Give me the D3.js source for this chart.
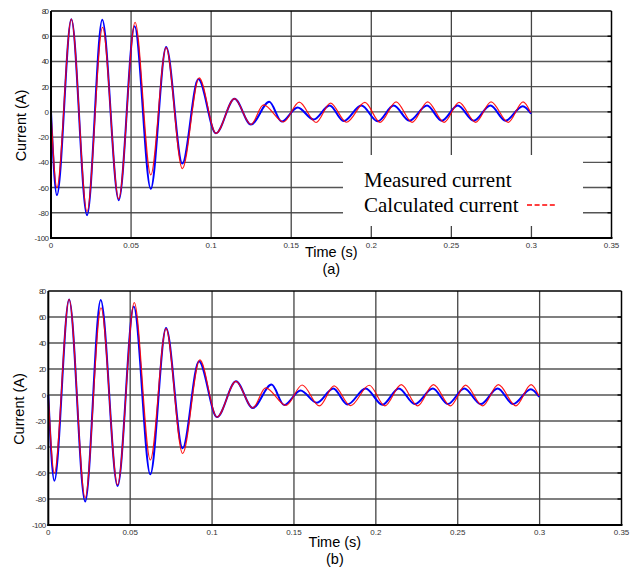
<!DOCTYPE html>
<html>
<head>
<meta charset="utf-8">
<script src="https://cdn.jsdelivr.net/npm/d3@7/dist/d3.min.js"></script>
<style>
  html, body { margin: 0; padding: 0; background: #fff; }
  svg { display: block; }
</style>
</head>
<body>
<svg id="chart" width="638" height="569"></svg>
<script>
// ---- Data ----
const timeMeasured = [0, 0.0037, 0.0127, 0.0225, 0.032, 0.0423, 0.0522, 0.0623, 0.0719, 0.082, 0.092, 0.103, 0.1146, 0.1248, 0.1363, 0.144, 0.154, 0.164, 0.174, 0.1827, 0.1938, 0.204, 0.214, 0.2238, 0.2348, 0.244, 0.254, 0.264, 0.2744, 0.2838, 0.2946, 0.2998];
const currentMeasured = [0, -66, 73.5, -82, 73, -70, 68, -61, 51.5, -41, 26, -17, 10.5, -10, 8, -7.7, 3.5, -6, 5, -7.3, 5, -7.5, 5, -7, 5, -7, 5, -7, 5, -7, 4.5, -1.5];

const timeCalculated = [0, 0.0037, 0.0127, 0.0225, 0.0322, 0.0423, 0.0525, 0.0623, 0.0719, 0.082, 0.0925, 0.103, 0.1146, 0.1248, 0.1327, 0.1452, 0.155, 0.1655, 0.1745, 0.1845, 0.196, 0.2055, 0.2155, 0.2255, 0.2352, 0.2455, 0.2548, 0.2652, 0.2748, 0.2855, 0.2948, 0.2995];
const currentCalculated = [0, -60, 73.5, -79, 67, -69, 71, -50, 51, -45, 27, -17, 10.5, -10, 5.5, -8, 7.7, -8.4, 7, -8.2, 7.5, -8.3, 8, -8.3, 8, -8.3, 7.6, -8.3, 8, -8.3, 8, -0.5];

const xTicks = [0, 0.05, 0.1, 0.15, 0.2, 0.25, 0.3, 0.35];
const xTickLabels = ["0", "0.05", "0.1", "0.15", "0.2", "0.25", "0.3", "0.35"];
const yTicks = [-100, -80, -60, -40, -20, 0, 20, 40, 60, 80];
const yTickLabels = ["-100", "-80", "-60", "-40", "-20", "0", "20", "40", "60", "80"];
const legendLabels = ["Measured current", "Calculated current"];

const measured = timeMeasured.map((t, i) => ({t, v: currentMeasured[i]}));
const calculated = timeCalculated.map((t, i) => ({t, v: currentCalculated[i]}));

const svg = d3.select("#chart");

function panel(cfg) {
  const x = d3.scaleLinear().domain([0, 0.35]).range([cfg.left, cfg.right]);
  const y = d3.scaleLinear().domain([-100, 80]).range([cfg.bottom, cfg.top]);
  const g = svg.append("g");

  // grid
  g.append("g").selectAll("line.h").data(yTicks.slice(1, -1)).join("line")
    .attr("x1", cfg.left).attr("x2", cfg.right)
    .attr("y1", d => y(d)).attr("y2", d => y(d))
    .attr("stroke", "#555").attr("stroke-width", 1.4);
  g.append("g").selectAll("line.v").data(xTicks.slice(1, -1)).join("line")
    .attr("x1", d => x(d)).attr("x2", d => x(d))
    .attr("y1", cfg.top).attr("y2", cfg.bottom)
    .attr("stroke", "#444").attr("stroke-width", 1.3);

  // legend occluder
  if (cfg.legend) {
    g.append("rect").attr("x", 343).attr("y", 155).attr("width", 240).attr("height", 71).attr("fill", "#fff");
  }

  const line = d3.line().x(d => x(d.t)).y(d => y(d.v)).curve(d3.curveMonotoneX);
  g.append("path").datum(measured).attr("d", line)
    .attr("fill", "none").attr("stroke", "#0000ff").attr("stroke-width", 2);
  g.append("path").datum(calculated).attr("d", line)
    .attr("fill", "none").attr("stroke", "#ff0000").attr("stroke-width", 1.2).attr("stroke-opacity", 0.9);

  // frame
  g.append("line").attr("x1", cfg.left).attr("x2", cfg.right).attr("y1", cfg.top).attr("y2", cfg.top)
    .attr("stroke", "#000").attr("stroke-width", 1.3);
  g.append("line").attr("x1", cfg.right).attr("x2", cfg.right).attr("y1", cfg.top).attr("y2", cfg.bottom)
    .attr("stroke", "#000").attr("stroke-width", 1.5);
  g.append("line").attr("x1", cfg.left - 1).attr("x2", cfg.right + 1).attr("y1", cfg.bottom).attr("y2", cfg.bottom)
    .attr("stroke", "#000").attr("stroke-width", 2);
  g.append("line").attr("x1", cfg.left).attr("x2", cfg.left).attr("y1", cfg.top).attr("y2", cfg.bottom + 1)
    .attr("stroke", "#000").attr("stroke-width", 2);

  // inward ticks on right side
  g.append("g").selectAll("line").data(yTicks.slice(1, -1)).join("line")
    .attr("x1", cfg.right - 4).attr("x2", cfg.right)
    .attr("y1", d => y(d)).attr("y2", d => y(d))
    .attr("stroke", "#000").attr("stroke-width", 1.4);

  // tick labels
  g.append("g").selectAll("text").data(yTicks).join("text")
    .attr("x", cfg.left - 2).attr("y", d => y(d) + 3)
    .attr("text-anchor", "end")
    .attr("font-family", "Liberation Sans, Arial, sans-serif")
    .attr("font-size", 8).attr("fill", "#333")
    .attr("textLength", (d, i) => yTickLabels[i].length * 3.6)
    .text((d, i) => yTickLabels[i]);
  g.append("g").selectAll("text").data(xTicks).join("text")
    .attr("x", d => x(d)).attr("y", cfg.bottom + 10)
    .attr("text-anchor", "middle")
    .attr("font-family", "Liberation Sans, Arial, sans-serif")
    .attr("font-size", 8).attr("fill", "#333")
    .text((d, i) => xTickLabels[i]);

  // axis titles
  const cy = (cfg.top + cfg.bottom) / 2 + 1;
  g.append("text")
    .attr("transform", `translate(${cfg.ylabX},${cy}) rotate(-90)`)
    .attr("text-anchor", "middle")
    .attr("font-family", "Liberation Sans, Arial, sans-serif")
    .attr("font-size", 14.5).attr("fill", "#000")
    .text("Current (A)");
  const cx = (cfg.left + cfg.right) / 2;
  g.append("text").attr("x", cx).attr("y", cfg.timeY)
    .attr("text-anchor", "middle")
    .attr("font-family", "Liberation Sans, Arial, sans-serif")
    .attr("font-size", 14.5).attr("fill", "#000")
    .text("Time (s)");
  g.append("text").attr("x", cx).attr("y", cfg.timeY + 16.5)
    .attr("text-anchor", "middle")
    .attr("font-family", "Liberation Sans, Arial, sans-serif")
    .attr("font-size", 14.5).attr("fill", "#000")
    .text(cfg.tag);

  if (cfg.legend) {
    g.append("text").attr("x", 364).attr("y", 187)
      .attr("font-family", "Liberation Serif, Times New Roman, serif")
      .attr("font-size", 21).attr("fill", "#000").text(legendLabels[0]);
    g.append("text").attr("x", 364).attr("y", 212)
      .attr("font-family", "Liberation Serif, Times New Roman, serif")
      .attr("font-size", 21).attr("fill", "#000").text(legendLabels[1]);
    g.append("line").attr("x1", 527).attr("x2", 555).attr("y1", 205).attr("y2", 205)
      .attr("stroke", "#ff0000").attr("stroke-width", 1.5).attr("stroke-dasharray", "5,2.6");
  }
}

panel({left: 51, right: 611.5, top: 11, bottom: 238, ylabX: 26, timeY: 257, tag: "(a)", legend: true});
panel({left: 48.3, right: 621.5, top: 291, bottom: 525, ylabX: 24, timeY: 547, tag: "(b)", legend: false});
</script>
</body>
</html>
